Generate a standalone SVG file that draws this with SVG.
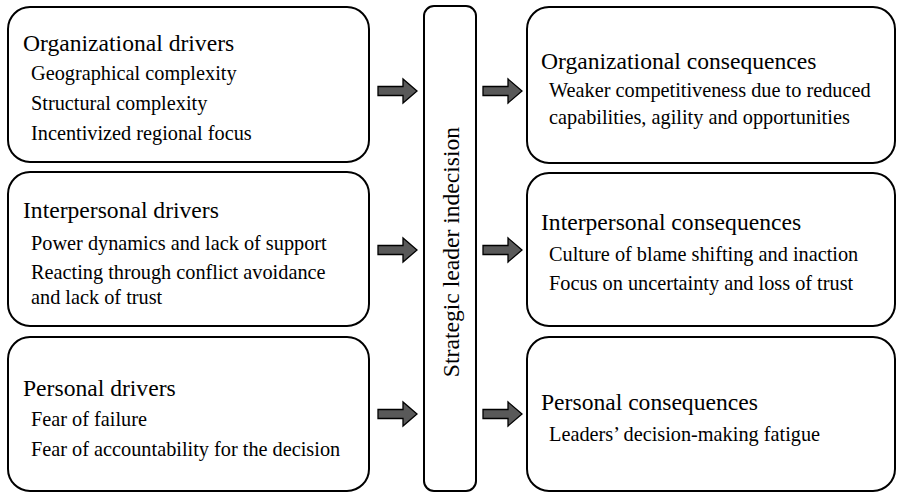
<svg xmlns="http://www.w3.org/2000/svg" width="898" height="495" viewBox="0 0 898 495">
<style>
.box{fill:#fff;stroke:#000;stroke-width:2}
.t{font-family:"Liberation Serif","Times New Roman",serif;fill:#000}
.h{font-size:23.6px}
.i{font-size:20.3px}
.arr{fill:#595959;stroke:#000;stroke-width:1.3}
</style>
<defs>
<path id="ar" d="M0,-4.5 H25 V-12 L39,0 L25,12 V4.5 H0 Z"/>
</defs>
<rect width="898" height="495" fill="#fff"/>
<g id="org-drivers">
<rect class="box" x="8" y="7" width="361" height="155" rx="22"/>
<text class="t h" x="23" y="51">Organizational drivers</text>
<text class="t i" x="31" y="80">Geographical complexity</text>
<text class="t i" x="31" y="110">Structural complexity</text>
<text class="t i" x="31" y="140">Incentivized regional focus</text>
</g>
<g id="inter-drivers">
<rect class="box" x="8" y="172" width="361" height="154" rx="22"/>
<text class="t h" x="23" y="218">Interpersonal drivers</text>
<text class="t i" x="31" y="250">Power dynamics and lack of support</text>
<text class="t i" x="31" y="279">Reacting through conflict avoidance</text>
<text class="t i" x="31" y="304">and lack of trust</text>
</g>
<g id="pers-drivers">
<rect class="box" x="8" y="337" width="361" height="154" rx="22"/>
<text class="t h" x="23" y="396">Personal drivers</text>
<text class="t i" x="31" y="426">Fear of failure</text>
<text class="t i" x="31" y="456">Fear of accountability for the decision</text>
</g>
<g id="indecision">
<rect class="box" x="424" y="6" width="52" height="485" rx="10"/>
<text class="t h" transform="translate(459,252) rotate(-90)" text-anchor="middle">Strategic leader indecision</text>
</g>
<g id="org-cons">
<rect class="box" x="527" y="7" width="368" height="156" rx="22"/>
<text class="t h" x="541" y="69">Organizational consequences</text>
<text class="t i" x="549" y="97">Weaker competitiveness due to reduced</text>
<text class="t i" x="549" y="124">capabilities, agility and opportunities</text>
</g>
<g id="inter-cons">
<rect class="box" x="527" y="173" width="368" height="153" rx="22"/>
<text class="t h" x="541" y="230">Interpersonal consequences</text>
<text class="t i" x="549" y="261">Culture of blame shifting and inaction</text>
<text class="t i" x="549" y="290">Focus on uncertainty and loss of trust</text>
</g>
<g id="pers-cons">
<rect class="box" x="527" y="337" width="368" height="154" rx="22"/>
<text class="t h" x="541" y="410">Personal consequences</text>
<text class="t i" x="549" y="441">Leaders’ decision-making fatigue</text>
</g>
<g id="connectors">
<use href="#ar" class="arr" x="378" y="91"/>
<use href="#ar" class="arr" x="483" y="91"/>
<use href="#ar" class="arr" x="378" y="250"/>
<use href="#ar" class="arr" x="483" y="250"/>
<use href="#ar" class="arr" x="378" y="414"/>
<use href="#ar" class="arr" x="483" y="414"/>
</g>
</svg>
